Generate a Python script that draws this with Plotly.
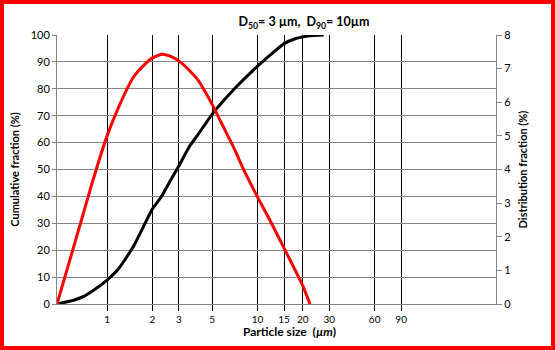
import plotly.graph_objects as go
import math

# Particle size distribution (sizes in micrometres)
cum_size_um = [0.465, 0.6, 0.7, 0.8, 1, 1.2, 1.5, 1.8, 2, 2.3, 2.6, 3, 3.5, 4, 5, 6, 7, 8, 10, 12, 15, 18, 20, 22, 25, 27.5]
cumulative_pct = [0, 1.4, 2.8, 4.8, 8.9, 13.3, 21.5, 30.3, 35.3, 40.0, 45.3, 51.3, 58.3, 62.8, 70.6, 75.8, 79.9, 83.2, 88.4, 92.3, 96.8, 98.7, 99.3, 99.7, 99.9, 100]

dist_size_um = [0.465, 0.6, 0.7, 0.8, 1, 1.2, 1.5, 1.8, 2, 2.3, 2.6, 3, 3.5, 4, 5, 6, 7, 8, 10, 12, 15, 18, 20, 22.3]
distribution_pct = [0, 1.70, 2.73, 3.63, 5.00, 5.88, 6.75, 7.15, 7.32, 7.43, 7.38, 7.23, 6.96, 6.67, 5.93, 5.22, 4.62, 4.04, 3.18, 2.52, 1.66, 0.96, 0.54, 0]

x_tick_vals = [1, 2, 3, 5, 10, 15, 20, 30, 60, 90]
x_tick_text = ["1", "2", "3", "5", "10", "15", "20", "30", "60", "90"]
x_min_um, x_max_um = 0.465, 384

FONT = "Lato"
GRID_GRAY = "#868686"

fig = go.Figure()
fig.add_trace(go.Scatter(
    x=cum_size_um, y=cumulative_pct, mode="lines",
    line=dict(color="#000000", width=3, shape="spline", smoothing=0.5),
    yaxis="y", showlegend=False,
))
fig.add_trace(go.Scatter(
    x=dist_size_um, y=distribution_pct, mode="lines",
    line=dict(color="#FF0000", width=3, shape="spline", smoothing=0.5),
    yaxis="y2", showlegend=False,
))

W, H = 555, 350
L, R, T, B = 57, 59, 35, 46
pw, ph = W - L - R, H - T - B


def px_x(px):
    return (px - L) / pw


def px_y(py):
    return (H - B - py) / ph


fig.update_layout(
    width=W, height=H,
    margin=dict(l=L, r=R, t=T, b=B),
    paper_bgcolor="white", plot_bgcolor="white",
    font=dict(family=FONT, color="#000000", size=11),
    title=dict(
        text="<b>D<sub>50</sub>= 3 µm,  D<sub>90</sub>= 10µm</b>",
        font=dict(size=12.5),
        xref="paper", x=px_x(304), xanchor="center",
        yref="container", y=1 - 22 / H, yanchor="middle",
    ),
    xaxis=dict(
        type="log",
        range=[math.log10(x_min_um), math.log10(x_max_um)],
        tickvals=x_tick_vals, ticktext=x_tick_text,
        tickfont=dict(size=10),
        showgrid=True, gridcolor="#000000", gridwidth=1,
        ticks="outside", ticklen=6, tickcolor="#000000", tickwidth=1,
        showline=True, linecolor=GRID_GRAY, linewidth=1,
        zeroline=False, automargin=False,
    ),
    yaxis=dict(
        range=[0, 100], dtick=10,
        showgrid=True, gridcolor=GRID_GRAY, gridwidth=1,
        ticks="outside", ticklen=4, tickcolor=GRID_GRAY,
        showline=True, linecolor=GRID_GRAY, linewidth=1,
        zeroline=False, tickfont=dict(size=11), automargin=False,
        title=dict(text="<b>Cumulative fraction (%)</b>", font=dict(size=11), standoff=8),
    ),
    yaxis2=dict(
        range=[0, 8], dtick=1, overlaying="y", side="right",
        showgrid=False, zeroline=False,
        ticks="outside", ticklen=5, tickcolor=GRID_GRAY,
        showline=True, linecolor=GRID_GRAY, linewidth=1,
        tickfont=dict(size=11), automargin=False,
        title=dict(text="<b>Distribution fraction (%)</b>", font=dict(size=11), standoff=9),
    ),
    annotations=[
        dict(text="<b>Particle size  (<i>µm</i>)</b>",
             x=px_x(289), y=px_y(331), xref="paper", yref="paper",
             showarrow=False, font=dict(size=12), xanchor="center", yanchor="middle"),
    ],
    shapes=[
        dict(type="rect", xref="paper", yref="paper",
             x0=px_x(2), x1=px_x(553), y0=px_y(348), y1=px_y(2),
             line=dict(color="#FF0000", width=4), fillcolor="rgba(0,0,0,0)"),
    ],
)

fig.write_html("out.html", config={"displayModeBar": False})
